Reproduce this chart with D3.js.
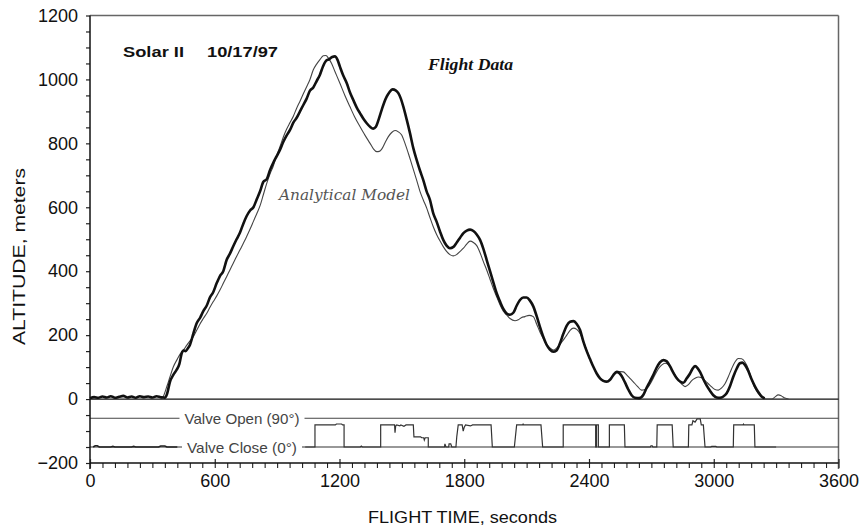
<!DOCTYPE html>
<html>
<head>
<meta charset="utf-8">
<script src="https://cdn.jsdelivr.net/npm/d3@7"></script>
<style>
  html, body { margin: 0; padding: 0; background: #fff; }
  svg { display: block; font-family: "Liberation Sans", Arial, sans-serif; }
</style>
</head>
<body>
<svg id="chart" width="861" height="529"></svg>
<script>
// ---------- DATA ----------
const flightTime = [0,20,40,60,80,100,120,140,160,180,200,220,240,260,280,300,320,340,360,
  370,385,400,417,430,441,450,460,470,481,497,513,530,545,561,577,593,609,625,641,657,673,689,705,721,737,753,770,786,802,818,834,850,866,882,898,914,930,946,962,978,994,1010,1026,1042,1058,1074,1090,1106,1120,1135,1150,1165,1178,1190,1202,1218,1235,1250,1266,1283,1299,1315,1331,1347,1362,1375,1390,1403,1415,1427,1440,1456,1470,1483,1495,1507,1523,1539,1555,1571,1587,1603,1619,1635,1651,1667,1683,1699,1715,1731,1748,1764,1780,1796,1812,1828,1844,1860,1876,1892,1908,1924,1940,1956,1972,1988,2004,2020,2036,2052,2068,2084,2100,2116,2132,2148,2164,2180,2196,2212,2228,2244,2260,2277,2293,2309,2325,2341,2357,2373,2389,2405,2421,2437,2453,2469,2485,2501,2517,2533,2545,2557,2573,2589,2605,2621,2641,2661,2677,2693,2709,2725,2741,2758,2774,2790,2806,2822,2838,2854,2870,2886,2898,2910,2922,2934,2950,2966,2982,2998,3014,3030,3046,3062,3078,3094,3110,3126,3138,3150,3166,3182,3198,3214,3230,3245];
const flightAlt = [3,6,4,8,5,9,4,7,10,5,8,4,9,6,8,5,9,6,4,
  15,55,75,92,110,143,152,150,158,170,205,237,255,275,292,318,335,362,385,400,435,455,478,500,520,548,572,590,600,625,650,680,688,717,740,760,780,805,825,842,865,880,900,920,940,965,975,995,1015,1040,1058,1063,1070,1072,1062,1040,1012,988,960,936,912,894,877,863,852,846,852,878,905,928,946,960,969,966,957,940,915,875,832,785,748,715,685,650,623,581,555,525,498,480,472,476,490,505,519,527,530,526,515,498,470,435,400,365,331,305,282,268,264,270,292,310,318,318,308,290,260,226,195,170,155,148,152,174,205,230,242,244,235,216,180,150,125,101,80,65,57,54,60,75,85,82,72,52,30,12,4,3,13,35,55,75,98,115,122,118,102,82,65,55,51,65,80,95,103,97,85,62,42,26,12,5,4,8,18,40,70,95,112,114,107,88,62,40,22,8,2];

const modelTime = [340,350,370,385,401,420,435,449,465,481,497,513,529,545,561,577,593,609,625,641,657,673,689,705,721,737,753,770,786,802,818,834,850,866,882,898,914,930,946,962,978,994,1010,1026,1042,1058,1074,1090,1106,1122,1135,1148,1162,1178,1202,1226,1250,1275,1299,1323,1347,1363,1379,1391,1403,1419,1435,1451,1467,1483,1499,1515,1531,1551,1571,1587,1603,1619,1635,1651,1667,1683,1699,1715,1731,1747,1763,1780,1796,1812,1828,1844,1860,1876,1892,1908,1924,1940,1956,1972,1988,2004,2020,2044,2060,2076,2092,2112,2132,2148,2164,2180,2196,2212,2229,2245,2261,2277,2293,2309,2325,2341,2357,2373,2389,2405,2421,2437,2453,2469,2485,2501,2517,2533,2549,2565,2581,2597,2613,2633,2653,2669,2685,2701,2717,2733,2749,2765,2781,2798,2814,2830,2846,2862,2878,2894,2910,2926,2942,2958,2974,2990,3006,3022,3038,3054,3070,3086,3102,3118,3134,3150,3166,3182,3198,3214,3230,3254,3280,3295,3310,3325,3342,3360];
const modelAlt = [0,5,40,70,101,125,142,153,168,182,195,215,235,252,268,287,305,322,341,362,383,404,425,446,466,487,508,532,556,580,605,640,675,705,730,762,790,820,845,865,885,910,932,955,977,1000,1030,1048,1062,1074,1075,1065,1050,1025,988,950,915,880,852,825,800,783,774,775,782,802,821,834,840,836,826,800,769,727,685,650,623,598,568,539,515,495,477,462,452,448,452,462,472,485,494,490,480,458,430,404,375,346,320,295,275,263,252,245,248,255,258,262,258,235,210,190,172,160,153,160,172,185,200,215,222,218,205,180,153,125,100,80,65,57,56,63,75,82,86,85,76,65,54,40,28,30,38,55,75,94,106,112,108,92,75,60,47,39,45,58,65,69,67,58,48,38,30,28,35,48,70,95,116,127,126,116,95,62,35,18,8,0,0,7,13,10,3,0];

// valve position trace (plotted in the altitude frame below zero)
const valvePreTime = [15,25,35,45,100,110,120,200,210,220,330,340,360,370,420];
const valvePreVal  = [-150,-146,-146,-150,-150,-148,-150,-150,-148,-150,-150,-147,-147,-150,-150];
const valveTime = [1035,1082,1082,1180,1185,1210,1215,1222,1222,1300,1305,1310,1398,1398,1465,1467,1470,1475,1490,1495,1510,1520,1555,1558,1590,1595,1605,1608,1612,1627,1627,1705,1707,1712,1725,1727,1735,1740,1760,1764,1771,1790,1795,1800,1806,1830,1840,1929,1935,2041,2052,2080,2083,2086,2169,2177,2276,2276,2432,2432,2436,2436,2445,2445,2498,2498,2570,2573,2695,2698,2704,2707,2726,2728,2800,2805,2878,2880,2895,2900,2910,2920,2935,2940,2950,2958,2985,2990,3010,3015,3094,3096,3140,3143,3146,3195,3198,3300];
const valveVal  = [-150,-150,-81,-81,-78,-78,-81,-81,-150,-150,-147,-150,-150,-81,-81,-105,-85,-81,-84,-81,-85,-81,-81,-118,-118,-121,-121,-128,-121,-121,-150,-150,-140,-150,-150,-140,-140,-150,-150,-118,-81,-81,-100,-88,-81,-84,-81,-81,-150,-150,-81,-81,-78,-81,-81,-150,-150,-81,-81,-150,-150,-81,-81,-150,-150,-81,-81,-150,-150,-146,-146,-150,-150,-81,-81,-150,-150,-81,-81,-68,-72,-62,-62,-81,-81,-150,-150,-148,-148,-150,-150,-81,-81,-78,-81,-81,-150,-150];

const valveOpenLevel = -60;
const valveCloseLevel = -150;

const xTicks = [0,600,1200,1800,2400,3000,3600];
const yTicks = [-200,0,200,400,600,800,1000,1200];

// ---------- LAYOUT ----------
const SANS = "'Liberation Sans', Arial, sans-serif";
const svg = d3.select("#chart");
const x = d3.scaleLinear().domain([0,3600]).range([90,838.5]);
const y = d3.scaleLinear().domain([-200,1200]).range([463,15.5]);

// frame: top & right
svg.append("line").attr("x1",x(0)).attr("x2",x(3600)).attr("y1",y(1200)).attr("y2",y(1200))
  .attr("stroke","#666").attr("stroke-width",1.5);
svg.append("line").attr("x1",x(3600)).attr("x2",x(3600)).attr("y1",y(1200)).attr("y2",469)
  .attr("stroke","#666").attr("stroke-width",1.5);

// reference lines
svg.append("line").attr("x1",x(0)).attr("x2",x(3600)).attr("y1",y(0)).attr("y2",y(0))
  .attr("stroke","#111").attr("stroke-width",1.2);
svg.append("line").attr("x1",x(0)).attr("x2",x(3600)).attr("y1",y(valveOpenLevel)).attr("y2",y(valveOpenLevel))
  .attr("stroke","#444").attr("stroke-width",1);
svg.append("line").attr("x1",x(0)).attr("x2",x(3600)).attr("y1",y(valveCloseLevel)).attr("y2",y(valveCloseLevel))
  .attr("stroke","#333").attr("stroke-width",1.2);

// valve trace
const vline = d3.line().x(d => x(d[0])).y(d => y(d[1]));
svg.append("path").datum(valvePreTime.map((t,i)=>[t,valvePreVal[i]]))
  .attr("d",vline).attr("fill","none").attr("stroke","#222").attr("stroke-width",1.6);
svg.append("path").datum(valveTime.map((t,i)=>[t,valveVal[i]]))
  .attr("d",vline).attr("fill","none").attr("stroke","#333").attr("stroke-width",1.2);

// valve labels with white backgrounds
function valveLabel(txt, level, len){
  const cx = 242;
  svg.append("rect").attr("x",cx-len/2-5).attr("y",y(level)-8).attr("width",len+10).attr("height",16).attr("fill","#fff");
  svg.append("text").attr("x",cx).attr("y",y(level)).attr("text-anchor","middle")
    .attr("dominant-baseline","central").style("font-family",SANS).style("font-size","15px").attr("fill","#444")
    .attr("textLength",len).attr("lengthAdjust","spacingAndGlyphs").text(txt);
}
valveLabel("Valve Open (90°)", valveOpenLevel, 115);
valveLabel("Valve Close (0°)", valveCloseLevel, 110);

// altitude curves
const line = d3.line().x(d => x(d[0])).y(d => y(d[1])).curve(d3.curveMonotoneX);
svg.append("path").datum(modelTime.map((t,i)=>[t,modelAlt[i]]))
  .attr("d",line).attr("fill","none").attr("stroke","#444").attr("stroke-width",1.1);
svg.append("path").datum(flightTime.map((t,i)=>[t,flightAlt[i]]))
  .attr("d",line).attr("fill","none").attr("stroke","#111").attr("stroke-width",2.6)
  .attr("stroke-linejoin","round");

// ---------- AXES ----------
// y axis
const yAxisG = svg.append("g").attr("transform",`translate(${x(0)},0)`);
yAxisG.call(d3.axisLeft(y).tickValues(d3.range(-200,1201,50)).tickSize(4).tickFormat(""));
yAxisG.select(".domain").remove();
yAxisG.selectAll(".tick line").attr("stroke","#222").attr("stroke-width",1.2);
const yLab = svg.append("g").attr("transform",`translate(${x(0)},0)`);
yLab.call(d3.axisLeft(y).tickValues(yTicks).tickSize(0).tickPadding(12).tickFormat(d3.format("d")));
yLab.select(".domain").remove();
yLab.selectAll("text").style("font-size","18px").style("font-family",SANS).attr("fill","#111");
svg.append("line").attr("x1",x(0)).attr("x2",x(0)).attr("y1",y(1200)).attr("y2",469)
  .attr("stroke","#111").attr("stroke-width",1.5);

// x axis
const xMinor = svg.append("g").attr("transform",`translate(0,${y(-200)})`);
xMinor.call(d3.axisBottom(x).tickValues(d3.range(0,3601,60)).tickSize(5).tickFormat(""));
xMinor.select(".domain").remove();
xMinor.selectAll(".tick line").attr("stroke","#222").attr("stroke-width",1.1);
const xMajUp = svg.append("g").attr("transform",`translate(0,${y(-200)})`);
xMajUp.call(d3.axisBottom(x).tickValues(xTicks).tickSize(-4).tickFormat(""));
xMajUp.select(".domain").remove();
xMajUp.selectAll(".tick line").attr("stroke","#222").attr("stroke-width",1.2);
const xLab = svg.append("g").attr("transform",`translate(0,${y(-200)})`);
xLab.call(d3.axisBottom(x).tickValues(xTicks).tickSize(0).tickFormat(d3.format("d")));
xLab.select(".domain").remove();
xLab.selectAll("text").attr("y",24).attr("dy",0).style("font-size","18px").style("font-family",SANS).attr("fill","#111");
svg.append("line").attr("x1",x(0)).attr("x2",x(3600)).attr("y1",y(-200)).attr("y2",y(-200))
  .attr("stroke","#111").attr("stroke-width",1.3);

// axis titles
svg.append("text").attr("transform","translate(25,256.5) rotate(-90)").attr("text-anchor","middle")
  .style("font-size","16px").style("font-family",SANS).attr("fill","#111")
  .attr("textLength",177).attr("lengthAdjust","spacingAndGlyphs")
  .text("ALTITUDE, meters");
svg.append("text").attr("x",462.5).attr("y",523).attr("text-anchor","middle")
  .style("font-size","16px").style("font-family",SANS).attr("fill","#111")
  .attr("textLength",189).attr("lengthAdjust","spacingAndGlyphs")
  .text("FLIGHT TIME, seconds");

// annotations
svg.append("text").attr("x",123).attr("y",57).style("font-size","14px").style("font-weight","bold")
  .style("font-family",SANS).attr("fill","#111").attr("textLength",61).attr("lengthAdjust","spacingAndGlyphs").text("Solar II");
svg.append("text").attr("x",207).attr("y",57).style("font-size","14px").style("font-weight","bold")
  .style("font-family",SANS).attr("fill","#111").attr("textLength",71).attr("lengthAdjust","spacingAndGlyphs").text("10/17/97");
svg.append("text").attr("x",428).attr("y",70).style("font-size","17px").style("font-weight","bold")
  .style("font-style","italic").style("font-family","'Liberation Serif', 'Times New Roman', serif")
  .attr("fill","#111").attr("textLength",85).attr("lengthAdjust","spacingAndGlyphs").text("Flight Data");
svg.append("text").attr("x",279).attr("y",200).style("font-size","15px")
  .style("font-style","italic").style("font-family","'DejaVu Serif', serif")
  .attr("fill","#555").attr("textLength",131).attr("lengthAdjust","spacingAndGlyphs").text("Analytical Model");
</script>
</body>
</html>
